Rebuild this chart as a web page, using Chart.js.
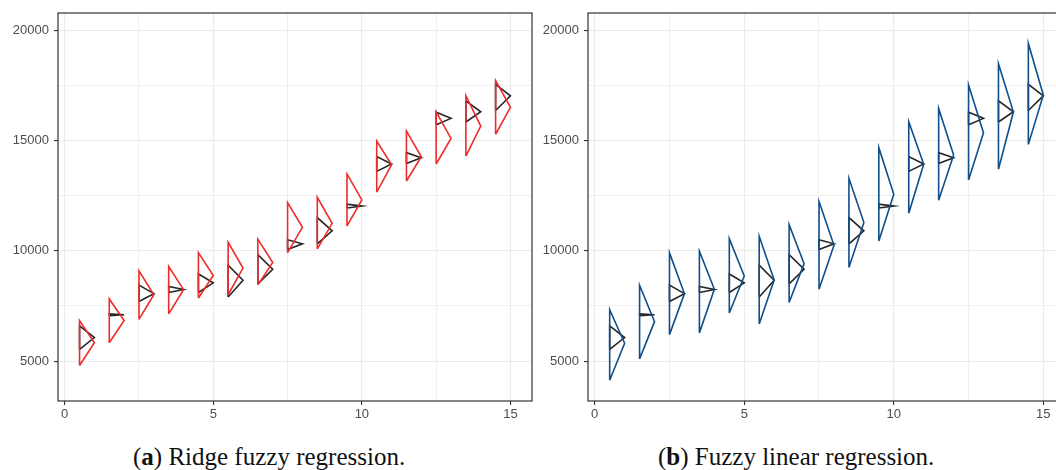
<!DOCTYPE html>
<html lang="en">
<head>
    <meta charset="UTF-8">
    <title>Ridge fuzzy regression vs fuzzy linear regression</title>
    <script src="https://cdn.jsdelivr.net/npm/chart.js"></script>
    <style>
        html, body { margin: 0; padding: 0; background: #fff; }
        body { width: 1056px; height: 470px; overflow: hidden; position: relative; }
        .panel { position: absolute; top: 0; width: 540px; height: 430px; }
        .caption {
            position: absolute; top: 444px; line-height: 25px;
            font-family: "Liberation Serif", "DejaVu Serif", serif;
            font-size: 25px; color: #111; white-space: nowrap;
        }
    </style>
</head>
<body>
    <div class="panel" style="left:0"><canvas id="ridgeChart" width="540" height="430"></canvas></div>
    <div class="panel" style="left:530px"><canvas id="flrChart" width="540" height="430"></canvas></div>
    <div class="caption" style="left:133px">(<b>a</b>) Ridge fuzzy regression.</div>
    <div class="caption" style="left:658px">(<b>b</b>) Fuzzy linear regression.</div>
    <script>
        // observation index (apex of each triangle)
        const xCenters = [1, 2, 3, 4, 5, 6, 7, 8, 9, 10, 11, 12, 13, 14, 15];

        // observed fuzzy responses (black)
        const obsLower  = [5530, 7060, 7700, 8110, 8110, 7910, 8500, 10060, 10320, 11945, 13605, 13965, 15720, 15845, 16365];
        const obsCenter = [6065, 7100, 8060, 8245, 8550, 8665, 9165, 10320, 10910, 12030, 13940, 14220, 16010, 16310, 17030];
        const obsUpper  = [6595, 7140, 8450, 8385, 8950, 9355, 9830, 10500, 11510, 12115, 14275, 14455, 16290, 16810, 17550];

        // ridge fuzzy regression estimates (red)
        const ridgeLower  = [4800, 5830, 6890, 7140, 7860, 8010, 8460, 9920, 10090, 11130, 12660, 13170, 13940, 14300, 15290];
        const ridgeCenter = [5830, 6840, 8010, 8240, 8880, 9220, 9470, 11070, 11250, 12310, 13900, 14270, 15100, 15660, 16510];
        const ridgeUpper  = [6840, 7820, 9100, 9290, 9920, 10390, 10530, 12190, 12430, 13490, 14980, 15440, 16310, 17040, 17720];

        // fuzzy linear regression estimates (blue)
        const flrLower  = [4130, 5100, 6200, 6280, 7180, 6680, 7660, 8260, 9250, 10450, 11710, 12300, 13220, 13700, 14830];
        const flrCenter = [5810, 6790, 8060, 8260, 8860, 8680, 9420, 10250, 11290, 12570, 13930, 14350, 15360, 16300, 17070];
        const flrUpper  = [7330, 8440, 9910, 9980, 10550, 10660, 11190, 12240, 13290, 14680, 15860, 16460, 17520, 18490, 19410];

        // axes
        const xTickLabels = [0, 5, 10, 15];
        const xGrid = [0, 2.5, 5, 7.5, 10, 12.5, 15];
        const yTickLabels = [5000, 10000, 15000, 20000];
        const yGrid = [5000, 7500, 10000, 12500, 15000, 17500, 20000];

        // a fuzzy number drawn as a sideways triangle: base at x-0.5, apex at x
        function triangles(lower, center, upper, color, order) {
            return xCenters.map((x, i) => ({
                data: [
                    { x: x - 0.5, y: lower[i] },
                    { x: x, y: center[i] },
                    { x: x - 0.5, y: upper[i] },
                    { x: x - 0.5, y: lower[i] }
                ],
                showLine: true,
                borderColor: color,
                borderWidth: 1.6,
                pointRadius: 0,
                fill: false,
                order: order
            }));
        }

        const panelBorder = {
            id: 'panelBorder',
            afterDraw(chart) {
                const a = chart.chartArea, c = chart.ctx;
                c.save();
                c.strokeStyle = '#333333';
                c.lineWidth = 1.2;
                c.strokeRect(a.left, a.top, a.right - a.left, a.bottom - a.top);
                c.restore();
            }
        };

        function makeChart(id, fitted, color, padRight) {
            const tickFont = { family: '"Liberation Sans", Arial, sans-serif', size: 13 };
            new Chart(document.getElementById(id), {
                type: 'scatter',
                data: {
                    datasets: [
                        ...triangles(fitted[0], fitted[1], fitted[2], color, 1),
                        ...triangles(obsLower, obsCenter, obsUpper, '#262626', 2)
                    ]
                },
                options: {
                    responsive: false,
                    animation: false,
                    layout: { padding: { top: 13, right: padRight, left: 0, bottom: 0 } },
                    plugins: { legend: { display: false }, tooltip: { enabled: false } },
                    scales: {
                        x: {
                            type: 'linear',
                            min: -0.225,
                            max: 15.725,
                            afterBuildTicks: s => { s.ticks = xGrid.map(v => ({ value: v })); },
                            afterFit: s => { s.height = 29; },
                            border: { display: false },
                            grid: {
                                color: c => xTickLabels.includes(c.tick.value) ? '#EBEBEB' : '#F0F0F0',
                                lineWidth: 1.1,
                                tickLength: 4,
                                tickColor: c => xTickLabels.includes(c.tick.value) ? '#333333' : 'rgba(0,0,0,0)'
                            },
                            ticks: {
                                color: '#4D4D4D',
                                font: tickFont,
                                padding: 2,
                                maxRotation: 0,
                                autoSkip: false,
                                callback: v => xTickLabels.includes(v) ? String(v) : ''
                            }
                        },
                        y: {
                            type: 'linear',
                            min: 3190,
                            max: 20790,
                            afterBuildTicks: s => { s.ticks = yGrid.map(v => ({ value: v })); },
                            afterFit: s => { s.width = 58; },
                            border: { display: false },
                            grid: {
                                color: c => yTickLabels.includes(c.tick.value) ? '#EBEBEB' : '#F0F0F0',
                                lineWidth: 1.1,
                                tickLength: 4,
                                tickColor: c => yTickLabels.includes(c.tick.value) ? '#333333' : 'rgba(0,0,0,0)'
                            },
                            ticks: {
                                color: '#4D4D4D',
                                font: tickFont,
                                padding: 5,
                                autoSkip: false,
                                callback: v => yTickLabels.includes(v) ? String(v) : ''
                            }
                        }
                    }
                },
                plugins: [panelBorder]
            });
        }

        makeChart('ridgeChart', [ridgeLower, ridgeCenter, ridgeUpper], '#EE2C2C', 8);
        makeChart('flrChart', [flrLower, flrCenter, flrUpper], '#104E8B', 5);
    </script>
</body>
</html>
